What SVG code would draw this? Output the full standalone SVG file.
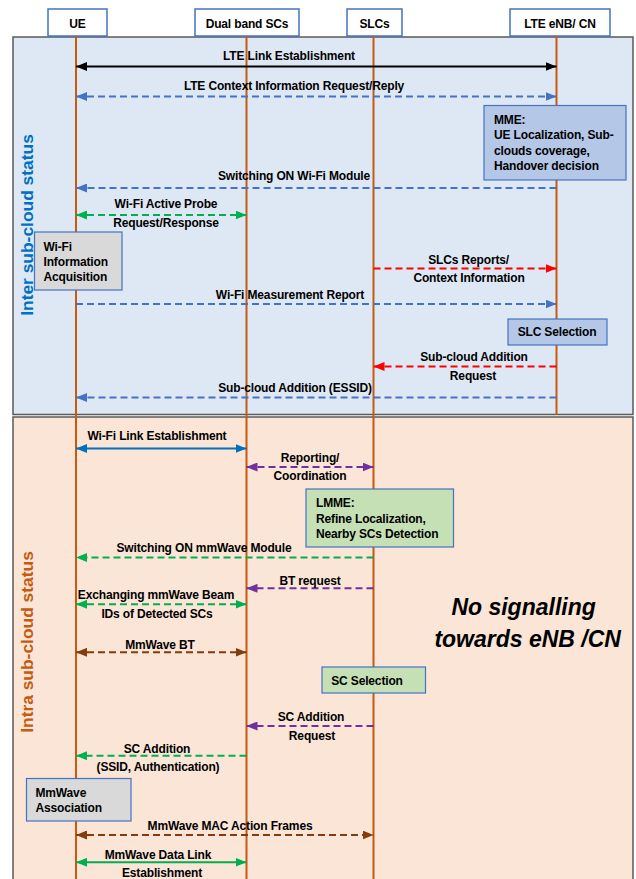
<svg xmlns="http://www.w3.org/2000/svg" width="636" height="879" viewBox="0 0 636 879">
<style>
text{font-family:"Liberation Sans",Arial,sans-serif;font-weight:bold;font-size:12px;fill:#000;letter-spacing:-0.15px}
.m{text-anchor:middle}
.hdr{fill:#fff;stroke:#4472c4;stroke-width:1.5}
.life{stroke:#c55a11;stroke-width:2;fill:none}
.note{stroke:#4472c4;stroke-width:1.2}
.nb{fill:#b4c7e7}
.ng{fill:#d9d9d9}
.nv{fill:#c5e0b4}
.c{fill:none;stroke-width:2}
.d{stroke-dasharray:7,4}
.blk{stroke:#000;marker-start:url(#mblk);marker-end:url(#mblk)}
.blu{stroke:#4472c4}
.grn{stroke:#00b050}
.red{stroke:#ff0000}
.pur{stroke:#7030a0}
.brn{stroke:#843c0c}
.sbl{stroke:#0070c0}
</style>
<defs>
<marker id="mblk" markerUnits="userSpaceOnUse" markerWidth="11" markerHeight="9" refX="11" refY="4.5" orient="auto-start-reverse"><path d="M0,0 L11,4.5 L0,9 z" fill="#000"/></marker>
<marker id="mblu" markerUnits="userSpaceOnUse" markerWidth="11" markerHeight="9" refX="11" refY="4.5" orient="auto-start-reverse"><path d="M0,0 L11,4.5 L0,9 z" fill="#4472c4"/></marker>
<marker id="mgrn" markerUnits="userSpaceOnUse" markerWidth="11" markerHeight="9" refX="11" refY="4.5" orient="auto-start-reverse"><path d="M0,0 L11,4.5 L0,9 z" fill="#00b050"/></marker>
<marker id="mred" markerUnits="userSpaceOnUse" markerWidth="11" markerHeight="9" refX="11" refY="4.5" orient="auto-start-reverse"><path d="M0,0 L11,4.5 L0,9 z" fill="#ff0000"/></marker>
<marker id="mpur" markerUnits="userSpaceOnUse" markerWidth="11" markerHeight="9" refX="11" refY="4.5" orient="auto-start-reverse"><path d="M0,0 L11,4.5 L0,9 z" fill="#7030a0"/></marker>
<marker id="mbrn" markerUnits="userSpaceOnUse" markerWidth="11" markerHeight="9" refX="11" refY="4.5" orient="auto-start-reverse"><path d="M0,0 L11,4.5 L0,9 z" fill="#843c0c"/></marker>
<marker id="msbl" markerUnits="userSpaceOnUse" markerWidth="11" markerHeight="9" refX="11" refY="4.5" orient="auto-start-reverse"><path d="M0,0 L11,4.5 L0,9 z" fill="#0070c0"/></marker>
</defs>
<rect width="636" height="879" fill="#fff"/>

<!-- panels -->
<rect x="13" y="37" width="620" height="377.5" fill="#dee8f5" stroke="#595959" stroke-width="1.5"/>
<rect x="13" y="417" width="620" height="470" fill="#fbe5d6" stroke="#595959" stroke-width="1.5"/>
<text transform="translate(32.5,225) rotate(-90)" class="m" style="font-size:17.4px;fill:#0070c0;letter-spacing:0">Inter sub-cloud status</text>
<text transform="translate(33,642) rotate(-90)" class="m" style="font-size:17.4px;fill:#c55a11;letter-spacing:0">Intra sub-cloud status</text>

<!-- lifeline nodes -->
<g id="ue">
<rect class="hdr" x="48" y="9" width="59" height="27"/>
<text class="m" x="77.5" y="27.5">UE</text>
<line class="life" x1="76" y1="36" x2="76" y2="879"/>
</g>
<g id="dual">
<rect class="hdr" x="195" y="9" width="104" height="27"/>
<text class="m" x="247" y="27.5">Dual band SCs</text>
<line class="life" x1="246.5" y1="36" x2="246.5" y2="879"/>
</g>
<g id="slcs">
<rect class="hdr" x="347" y="9" width="55" height="27"/>
<text class="m" x="374.5" y="27.5">SLCs</text>
<line class="life" x1="373.5" y1="36" x2="373.5" y2="879"/>
</g>
<g id="lte">
<rect class="hdr" x="510" y="9" width="100" height="27"/>
<text class="m" x="560" y="27.5">LTE eNB/ CN</text>
<line class="life" x1="556.5" y1="36" x2="556.5" y2="415"/>
</g>

<!-- notes -->
<g id="mme">
<rect class="note nb" x="484" y="105.5" width="142" height="74.5"/>
<text x="494" y="123.5">MME:</text>
<text x="494" y="139">UE Localization, Sub-</text>
<text x="494" y="154.5">clouds coverage,</text>
<text x="494" y="170">Handover decision</text>
</g>
<g id="wifi-info">
<rect class="note ng" x="34.5" y="232" width="87.5" height="58"/>
<text x="43.5" y="251">Wi-Fi</text>
<text x="43.5" y="266">Information</text>
<text x="43.5" y="281">Acquisition</text>
</g>
<g id="slc-selection">
<rect class="note nb" x="508" y="319" width="99" height="26"/>
<text class="m" x="557" y="336">SLC Selection</text>
</g>
<g id="lmme">
<rect class="note nv" x="306" y="489" width="147.5" height="58"/>
<text x="316" y="507">LMME:</text>
<text x="316" y="522.5">Refine Localization,</text>
<text x="316" y="537.5">Nearby SCs Detection</text>
</g>
<g id="sc-selection">
<rect class="note nv" x="322" y="667" width="103.5" height="26"/>
<text class="m" x="367" y="685">SC Selection</text>
</g>
<g id="mmwave-assoc">
<rect class="note ng" x="26.5" y="778.5" width="104.5" height="42.5"/>
<text x="35.5" y="797">MmWave</text>
<text x="35.5" y="812">Association</text>
</g>
<g id="no-signalling">
<text class="m" x="523.6" y="615" style="font-size:23px;font-style:italic;letter-spacing:0">No signalling</text>
<text class="m" x="527.7" y="647" style="font-size:23px;font-style:italic;letter-spacing:0">towards eNB /CN</text>
</g>

<!-- connectors -->
<g id="connectors">
<line class="c blk" x1="76" y1="66.5" x2="556.5" y2="66.5"/>
<text class="m" x="289" y="60">LTE Link Establishment</text>

<line class="c d blu" x1="76" y1="96.5" x2="556.5" y2="96.5" marker-start="url(#mblu)" marker-end="url(#mblu)"/>
<text class="m" x="294" y="90">LTE Context Information Request/Reply</text>

<line class="c d blu" x1="556.5" y1="188" x2="76" y2="188" marker-end="url(#mblu)"/>
<text class="m" x="294" y="180">Switching ON Wi-Fi Module</text>

<line class="c d grn" x1="76" y1="215" x2="246.5" y2="215" marker-start="url(#mgrn)" marker-end="url(#mgrn)"/>
<text class="m" x="166" y="208">Wi-Fi Active Probe</text>
<text class="m" x="166" y="227">Request/Response</text>

<line class="c d red" x1="373.5" y1="268.5" x2="556.5" y2="268.5" marker-end="url(#mred)"/>
<text class="m" x="468.6" y="264">SLCs Reports/</text>
<text class="m" x="469" y="282">Context Information</text>

<line class="c d blu" x1="76" y1="304" x2="556.5" y2="304" marker-end="url(#mblu)"/>
<text class="m" x="290" y="299">Wi-Fi Measurement Report</text>

<line class="c d red" x1="556.5" y1="366.5" x2="373.5" y2="366.5" marker-end="url(#mred)"/>
<text class="m" x="474" y="361">Sub-cloud Addition</text>
<text class="m" x="473" y="380">Request</text>

<line class="c d blu" x1="556.5" y1="397.5" x2="76" y2="397.5" marker-end="url(#mblu)"/>
<text class="m" x="295" y="392">Sub-cloud Addition (ESSID)</text>

<line class="c sbl" x1="76" y1="448.5" x2="246.5" y2="448.5" marker-start="url(#msbl)" marker-end="url(#msbl)"/>
<text class="m" x="157" y="440">Wi-Fi Link Establishment</text>

<line class="c d pur" x1="246.5" y1="467" x2="373.5" y2="467" marker-start="url(#mpur)" marker-end="url(#mpur)"/>
<text class="m" x="310" y="462">Reporting/</text>
<text class="m" x="310" y="480">Coordination</text>

<line class="c d grn" x1="373.5" y1="557.5" x2="76" y2="557.5" marker-end="url(#mgrn)"/>
<text class="m" x="204" y="552">Switching ON mmWave Module</text>

<line class="c d pur" x1="373.5" y1="588.3" x2="246.5" y2="588.3" marker-end="url(#mpur)"/>
<text class="m" x="310" y="585">BT request</text>

<line class="c d grn" x1="76" y1="604.3" x2="246.5" y2="604.3" marker-start="url(#mgrn)" marker-end="url(#mgrn)"/>
<text class="m" x="156" y="599">Exchanging mmWave Beam</text>
<text class="m" x="157" y="617.7">IDs of Detected SCs</text>

<line class="c d brn" x1="76" y1="652.3" x2="246.5" y2="652.3" marker-start="url(#mbrn)" marker-end="url(#mbrn)"/>
<text class="m" x="160" y="649">MmWave BT</text>

<line class="c d pur" x1="373.5" y1="726" x2="246.5" y2="726" marker-end="url(#mpur)"/>
<text class="m" x="311" y="721">SC Addition</text>
<text class="m" x="312" y="740">Request</text>

<line class="c d grn" x1="246.5" y1="755.7" x2="76" y2="755.7" marker-end="url(#mgrn)"/>
<text class="m" x="157" y="753">SC Addition</text>
<text class="m" x="158" y="771">(SSID, Authentication)</text>

<line class="c d brn" x1="76" y1="835" x2="373.5" y2="835" marker-start="url(#mbrn)" marker-end="url(#mbrn)"/>
<text class="m" x="230" y="830">MmWave MAC Action Frames</text>

<line class="c grn" x1="76" y1="862.3" x2="246.5" y2="862.3" marker-start="url(#mgrn)" marker-end="url(#mgrn)"/>
<text class="m" x="158" y="858.5">MmWave Data Link</text>
<text class="m" x="162" y="877">Establishment</text>
</g>
</svg>
